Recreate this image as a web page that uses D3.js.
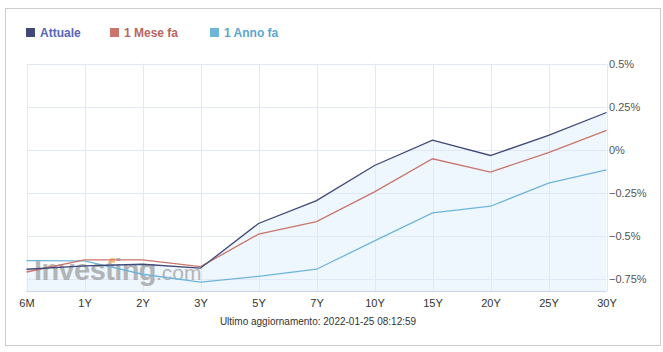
<!DOCTYPE html>
<html>
<head>
<meta charset="utf-8">
<script src="https://cdn.jsdelivr.net/npm/d3@7"></script>
<style>
  body { margin: 0; background: #fff; }
  svg { display: block; font-family: "Liberation Sans", Arial, sans-serif; }
</style>
</head>
<body>
<div id="chart"></div>
<script>
const maturities = ["6M", "1Y", "2Y", "3Y", "5Y", "7Y", "10Y", "15Y", "20Y", "25Y", "30Y"];
const attuale   = [-0.692, -0.673, -0.663, -0.686, -0.427, -0.294, -0.091, 0.056, -0.033, 0.083, 0.216];
const meseFa    = [-0.708, -0.638, -0.638, -0.677, -0.489, -0.416, -0.244, -0.052, -0.129, -0.016, 0.112];
const annoFa    = [-0.642, -0.644, -0.721, -0.767, -0.733, -0.692, -0.528, -0.365, -0.327, -0.193, -0.116];
const yTicks = [0.5, 0.25, 0, -0.25, -0.5, -0.75];
const footer = "Ultimo aggiornamento: 2022-01-25 08:12:59";

const series = [
    {name: "Attuale", values: attuale, color: "#3f4877", text: "#5866b8"},
    {name: "1 Mese fa", values: meseFa, color: "#c9756c", text: "#b7665f"},
    {name: "1 Anno fa", values: annoFa, color: "#6fb5da", text: "#5ba6cd"}
];

const W = 663, H = 352;
const svg = d3.select("#chart").append("svg")
    .attr("width", W)
    .attr("height", H);

// outer frame
svg.append("rect")
    .attr("x", 5.5).attr("y", 8.5)
    .attr("width", 655).attr("height", 337)
    .attr("fill", "#fff")
    .attr("stroke", "#cccccc");

const x = d3.scalePoint()
    .domain(maturities)
    .range([26.5, 606.5]);

const y = d3.scaleLinear()
    .domain([-0.821, 0.5])
    .range([291.5, 63.5]);

// area under current curve
svg.append("path")
    .datum(attuale)
    .attr("fill", "#eef7fd")
    .attr("d", d3.area()
        .x((d, i) => x(maturities[i]))
        .y0(y(-0.821))
        .y1(d => y(d)));

// grid
svg.append("g")
    .selectAll("line")
    .data(yTicks)
    .join("line")
    .attr("x1", x.range()[0]).attr("x2", x.range()[1])
    .attr("y1", d => Math.round(y(d)) + 0.5).attr("y2", d => Math.round(y(d)) + 0.5)
    .attr("stroke", "#e3e8f6");

svg.append("g")
    .selectAll("line")
    .data(maturities)
    .join("line")
    .attr("x1", d => Math.round(x(d)) + 0.5).attr("x2", d => Math.round(x(d)) + 0.5)
    .attr("y1", y.range()[1]).attr("y2", y.range()[0])
    .attr("stroke", "#e3e8f6");

// watermark
const wm = svg.append("text")
    .attr("x", 34).attr("y", 280)
    .attr("fill", "#8a8a8a")
    .attr("opacity", 0.6);
wm.append("tspan")
    .attr("font-size", 29).attr("font-weight", "bold")
    .attr("letter-spacing", -0.6)
    .text("Investing");
wm.append("tspan")
    .attr("font-size", 21)
    .text(".com");
svg.append("rect")
    .attr("x", 110).attr("y", 258)
    .attr("width", 5).attr("height", 5)
    .attr("fill", "#f4b968")
    .attr("opacity", 0.8);

// x axis line
svg.append("line")
    .attr("x1", x.range()[0]).attr("x2", x.range()[1])
    .attr("y1", 291.5).attr("y2", 291.5)
    .attr("stroke", "#ccd6eb");

// x axis
const xAxis = svg.append("g")
    .attr("transform", "translate(0, 291.5)")
    .call(d3.axisBottom(x).tickSize(0).tickPadding(8));
xAxis.select(".domain").remove();
xAxis.selectAll("text")
    .attr("font-size", 11)
    .attr("font-family", "Liberation Sans, Arial, sans-serif")
    .attr("fill", "#333");

// y axis on right
const yAxis = svg.append("g")
    .attr("transform", "translate(609, 0)")
    .call(d3.axisRight(y).tickValues(yTicks).tickSize(0).tickPadding(0)
        .tickFormat(d => d3.format("")(d).replace("-", "\u2212") + "%"));
yAxis.select(".domain").remove();
yAxis.selectAll("text")
    .attr("font-size", 11)
    .attr("font-family", "Liberation Sans, Arial, sans-serif")
    .attr("fill", "#555");

// lines (draw oldest first)
const line = d3.line()
    .x((d, i) => x(maturities[i]))
    .y(d => y(d));

series.slice().reverse().forEach(s => {
    svg.append("path")
        .datum(s.values)
        .attr("fill", "none")
        .attr("stroke", s.color)
        .attr("stroke-width", 1.3)
        .attr("d", line);
});

// legend
const legendX = [26, 110, 210];
const legend = svg.append("g");
series.forEach((s, i) => {
    const g = legend.append("g").attr("transform", `translate(${legendX[i]}, 28)`);
    g.append("rect")
        .attr("width", 9).attr("height", 9)
        .attr("fill", s.color);
    g.append("text")
        .attr("x", 14).attr("y", 9)
        .attr("font-size", 12)
        .attr("font-weight", "bold")
        .attr("fill", s.text)
        .text(s.name);
});

// footer
svg.append("text")
    .attr("x", 318).attr("y", 325)
    .attr("text-anchor", "middle")
    .attr("font-size", 10)
    .attr("fill", "#333")
    .text(footer);
</script>
</body>
</html>
